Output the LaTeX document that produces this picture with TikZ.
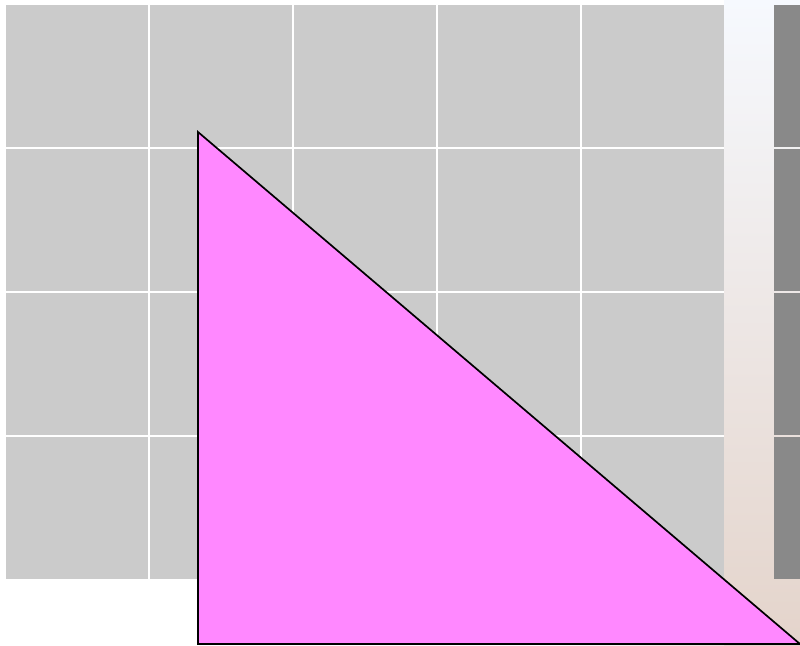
\documentclass[tikz,border=0pt]{standalone}
\usetikzlibrary{shadings}
\definecolor{cellgray}{HTML}{CBCBCB}
\definecolor{darkcell}{HTML}{898989}
\definecolor{tripink}{HTML}{FF88FF}
\definecolor{bgtop}{HTML}{F6F9FE}
\definecolor{bgbot}{HTML}{E4D4CB}
\tikzset{
  cell/.style={fill=cellgray, draw=none},
  dcell/.style={fill=darkcell, draw=none},
  tri/.style={fill=tripink, draw=black, line width=1.7pt, line join=miter}
}
\begin{document}
\begin{tikzpicture}[x=1pt,y=-1pt]
  \useasboundingbox (0,0) rectangle (800,645);
  \fill[white] (0,0) rectangle (800,645);
  % soft background tint on the right
  \shade[top color=bgtop, bottom color=bgbot] (724,0) rectangle (800,645);
  \shade[left color=white, right color=bgbot!70] (560,580) rectangle (724,645);
  % grid of light gray cells
  \foreach \i in {0,...,4}{
    \foreach \j in {0,...,3}{
      \fill[cellgray] ({6+144*\i},{5+144*\j}) rectangle ++(142,142);
    }
  }
  % dark strip on the right
  \begin{scope}
    \clip (0,0) rectangle (800,645);
    \foreach \j in {0,...,3}{
      \fill[darkcell] (774,{5+144*\j}) rectangle ++(142,142);
    }
  \end{scope}
  % triangle
  \begin{scope}
    \clip (0,0) rectangle (800,645);
    \draw[tri] (198,132) -- (198,644) -- (800,644) -- cycle;
  \end{scope}
\end{tikzpicture}
\end{document}
